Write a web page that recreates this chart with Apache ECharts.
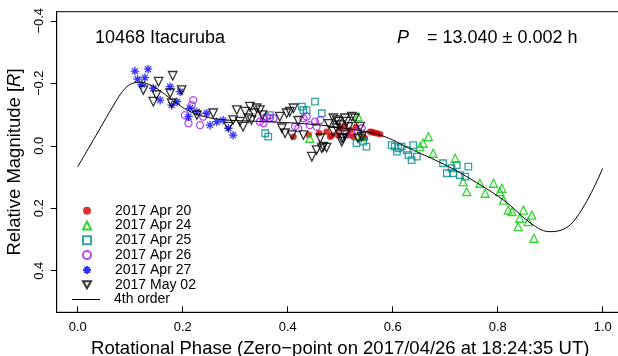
<!DOCTYPE html>
<html>
<head>
<meta charset="utf-8">
<script src="https://cdn.jsdelivr.net/npm/echarts@6/dist/echarts.min.js"></script>
<style>
  html, body { margin: 0; padding: 0; background: #fff; }
  #chart { width: 618px; height: 356px; }
</style>
</head>
<body>
<div id="chart"></div>
<script>
// rotational phase / relative magnitude pairs
const apr20 = [
  [0.411, -0.029], [0.440, -0.035], [0.460, -0.040], [0.474, -0.045], [0.481, -0.029],
  [0.484, -0.034], [0.496, -0.034], [0.500, -0.056], [0.509, -0.061], [0.515, -0.034],
  [0.520, -0.050], [0.525, -0.029], [0.530, -0.060], [0.544, -0.029], [0.547, -0.024],
  [0.557, -0.045], [0.561, -0.044], [0.565, -0.041], [0.570, -0.040], [0.576, -0.037]
];
const apr24 = [
  [0.442, -0.024], [0.534, -0.093], [0.540, -0.030], [0.652, 0.003], [0.658, -0.008],
  [0.668, -0.029], [0.677, 0.024], [0.719, 0.040], [0.734, 0.115], [0.741, 0.147],
  [0.766, 0.120], [0.776, 0.152], [0.792, 0.120], [0.808, 0.136], [0.804, 0.147],
  [0.811, 0.174], [0.820, 0.206], [0.827, 0.211], [0.849, 0.206], [0.865, 0.222],
  [0.842, 0.232], [0.858, 0.243], [0.839, 0.259], [0.869, 0.296]
];
const apr25 = [
  [0.357, -0.040], [0.363, -0.029], [0.366, -0.098], [0.427, -0.125], [0.436, -0.114],
  [0.452, -0.141], [0.430, -0.114], [0.465, -0.104], [0.531, -0.008], [0.544, -0.013],
  [0.550, 0.003], [0.598, -0.002], [0.604, 0.003], [0.611, 0.008], [0.617, 0.003],
  [0.608, 0.019], [0.627, 0.014], [0.639, -0.002], [0.630, 0.030], [0.646, 0.035],
  [0.636, 0.046], [0.696, 0.056], [0.703, 0.088], [0.715, 0.088], [0.722, 0.062],
  [0.728, 0.094], [0.738, 0.099], [0.744, 0.067], [0.712, 0.072]
];
const apr26 = [
  [0.220, -0.146], [0.217, -0.130], [0.204, -0.098], [0.211, -0.072], [0.233, -0.066],
  [0.239, -0.093], [0.347, -0.077], [0.354, -0.088], [0.360, -0.093], [0.366, -0.088],
  [0.373, -0.088], [0.354, -0.072], [0.414, -0.061], [0.420, -0.056], [0.430, -0.088],
  [0.436, -0.093], [0.442, -0.066], [0.452, -0.077], [0.455, -0.061], [0.462, -0.082],
  [0.512, -0.040], [0.534, -0.045], [0.541, -0.056]
];
const apr27 = [
  [0.109, -0.239], [0.134, -0.245], [0.114, -0.213], [0.128, -0.218], [0.122, -0.196],
  [0.144, -0.184], [0.157, -0.146], [0.176, -0.189], [0.195, -0.173], [0.189, -0.141],
  [0.179, -0.130], [0.214, -0.120], [0.227, -0.109], [0.246, -0.104], [0.211, -0.093],
  [0.252, -0.066], [0.265, -0.077], [0.277, -0.082], [0.287, -0.056], [0.296, -0.034]
];
const may02 = [
  [0.125, -0.178], [0.154, -0.205], [0.181, -0.224], [0.150, -0.162], [0.144, -0.141],
  [0.176, -0.168], [0.198, -0.178], [0.179, -0.136], [0.227, -0.098], [0.258, -0.104],
  [0.287, -0.061], [0.303, -0.114], [0.319, -0.109], [0.328, -0.125], [0.341, -0.120],
  [0.347, -0.114], [0.296, -0.082], [0.309, -0.077], [0.315, -0.061], [0.325, -0.088],
  [0.331, -0.082], [0.404, -0.109], [0.411, -0.120], [0.385, -0.093], [0.389, -0.056],
  [0.395, -0.040], [0.408, -0.034], [0.430, -0.034], [0.462, -0.024], [0.487, -0.045],
  [0.493, -0.082], [0.500, -0.066], [0.512, -0.077], [0.506, -0.024], [0.446, 0.035],
  [0.455, 0.014], [0.465, 0.008], [0.474, 0.006], [0.487, -0.088], [0.496, -0.077],
  [0.509, -0.088], [0.522, -0.093], [0.528, -0.088], [0.493, -0.056], [0.503, -0.024],
  [0.509, -0.034], [0.534, -0.024], [0.541, -0.029], [0.538, -0.061], [0.503, -0.013],
  [0.468, 0.003], [0.336, -0.104], [0.398, -0.104], [0.420, -0.080], [0.352, -0.098],
  [0.516, -0.060], [0.478, -0.070]
];
// 4th order Fourier fit, sampled from the drawn curve
const fitPhase = [0.000, 0.020, 0.040, 0.060, 0.075, 0.090, 0.105, 0.120, 0.140, 0.160,
  0.185, 0.210, 0.240, 0.280, 0.330, 0.385, 0.450, 0.500, 0.576, 0.639, 0.696, 0.741,
  0.811, 0.868, 0.900, 0.944, 1.000];
const fitMag = [0.067, 0.010, -0.048, -0.106, -0.148, -0.183, -0.200, -0.203, -0.193, -0.172,
  -0.140, -0.113, -0.094, -0.083, -0.079, -0.075, -0.068, -0.058, -0.034, 0.014, 0.058, 0.099,
  0.174, 0.254, 0.275, 0.243, 0.072];
const xTicks = [0, 0.2, 0.4, 0.6, 0.8, 1.0];
const yTicks = [-0.4, -0.2, 0, 0.2, 0.4];

const FONT = 'Liberation Sans, Arial, sans-serif';
const asterisk = 'path://M5,0L5,10M0,5L10,5M1.5,1.5L8.5,8.5M8.5,1.5L1.5,8.5';
const downTri = 'path://M0,0L10,0L5,8.66Z';
const clear = 'rgba(0,0,0,0)';

function pts(name, data, symbol, size, col, filled) {
  return {
    name: name,
    type: 'scatter',
    data: data,
    symbol: symbol,
    symbolSize: size,
    itemStyle: filled ? { color: col } : { color: clear, borderColor: col, borderWidth: 1.3 },
    z: 3
  };
}

let chart = echarts.init(document.getElementById('chart'), null, { renderer: 'canvas' });
let option = {
  animation: false,
  textStyle: { fontFamily: FONT },
  grid: {
    left: 56.7, right: -5.7, top: 11.7, bottom: 43.7,
    containLabel: false,
    outerBoundsMode: 'none',
    show: true, borderColor: '#000', borderWidth: 1, backgroundColor: clear
  },
  xAxis: {
    type: 'value',
    min: -0.04,
    max: 1.04,
    axisLine: { show: true, onZero: false, lineStyle: { color: '#000' } },
    axisTick: { show: true, inside: true, length: 6, customValues: xTicks, lineStyle: { color: '#000' } },
    axisLabel: {
      customValues: xTicks, margin: 9, fontSize: 13, color: '#000', fontFamily: FONT,
      formatter: v => v.toFixed(1)
    },
    splitLine: { show: false },
    name: 'Rotational Phase (Zero\u2212point on 2017/04/26 at 18:24:35 UT)',
    nameLocation: 'middle',
    nameGap: 22,
    nameTextStyle: { fontSize: 18.5, color: '#000', fontFamily: FONT }
  },
  yAxis: {
    type: 'value',
    inverse: true,
    min: -0.429,
    max: 0.533,
    axisLine: { show: true, onZero: false, lineStyle: { color: '#000' } },
    axisTick: { show: true, inside: false, length: 6, customValues: yTicks, lineStyle: { color: '#000' } },
    axisLabel: {
      customValues: yTicks, margin: 11, fontSize: 13, color: '#000', fontFamily: FONT, rotate: 90,
      formatter: v => v.toFixed(1).replace('-', '\u2212')
    },
    splitLine: { show: false },
    name: 'Relative Magnitude [{i|R}]',
    nameLocation: 'middle',
    nameGap: 24,
    nameTextStyle: {
      fontSize: 18.5, color: '#000', fontFamily: FONT,
      rich: { i: { fontStyle: 'italic', fontSize: 18.5, fontFamily: FONT } }
    }
  },
  legend: [
    {
      orient: 'vertical',
      left: 82,
      top: 203.3,
      padding: 0,
      itemWidth: 8,
      itemHeight: 8,
      itemGap: 0,
      textStyle: { fontSize: 14, color: '#000', fontFamily: FONT, lineHeight: 14.8, padding: [0, 0, 0, 19] },
      data: ['2017 Apr 20', '2017 Apr 24', '2017 Apr 25', '2017 Apr 26', '2017 Apr 27',
        { name: '2017 May 02', icon: downTri }]
    },
    {
      orient: 'vertical',
      left: 72,
      top: 292.1,
      padding: 0,
      itemWidth: 28,
      itemHeight: 1,
      icon: 'rect',
      textStyle: { fontSize: 14, color: '#000', fontFamily: FONT, lineHeight: 14.8, padding: [0, 0, 0, 9] },
      data: ['4th order']
    }
  ],
  graphic: [
    { type: 'text', left: 95, top: 29, style: { text: '10468 Itacuruba', fontSize: 18, fontFamily: FONT, fill: '#000' } },
    { type: 'text', left: 397, top: 29, style: { text: 'P', fontSize: 18, fontStyle: 'italic', fontFamily: FONT, fill: '#000' } },
    { type: 'text', left: 427, top: 29, style: { text: '= 13.040 \u00b1 0.002 h', fontSize: 18, fontFamily: FONT, fill: '#000' } }
  ],
  series: [
    pts('2017 Apr 20', apr20, 'circle', 6.5, '#cd0000', true),
    pts('2017 Apr 24', apr24, 'triangle', 8, '#00cd00', false),
    pts('2017 Apr 25', apr25, 'rect', 6.5, '#008b8b', false),
    pts('2017 Apr 26', apr26, 'circle', 7, '#a020f0', false),
    pts('2017 Apr 27', apr27, asterisk, 8.5, '#0000ff', false),
    pts('2017 May 02', may02, downTri, 8.5, '#000000', false),
    {
      name: '4th order',
      type: 'line',
      data: fitPhase.map((p, i) => [p, fitMag[i]]),
      smooth: 0.4,
      showSymbol: false,
      symbol: 'none',
      lineStyle: { color: '#000', width: 1 },
      itemStyle: { color: '#000' },
      z: 4
    }
  ]
};
chart.setOption(option);
</script>
</body>
</html>
